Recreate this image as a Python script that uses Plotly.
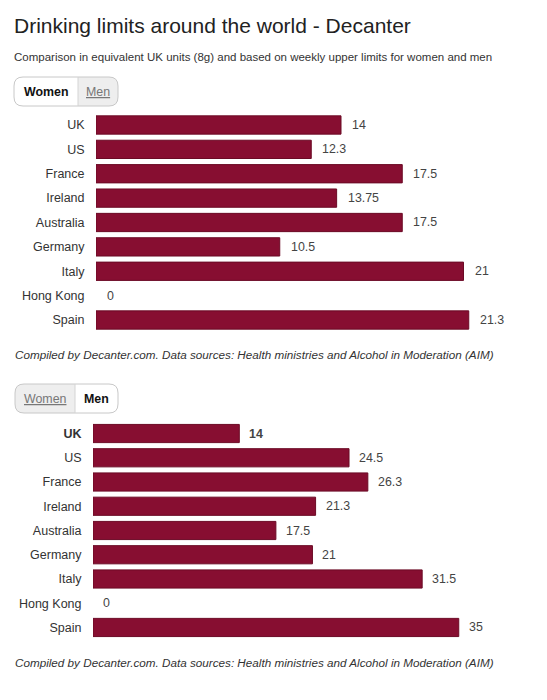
import plotly.graph_objects as go

countries = ["UK", "US", "France", "Ireland", "Australia", "Germany", "Italy", "Hong Kong", "Spain"]
women = [14, 12.3, 17.5, 13.75, 17.5, 10.5, 21, 0, 21.3]
men = [14, 24.5, 26.3, 21.3, 17.5, 21, 31.5, 0, 35]
women_labels = ["14", "12.3", "17.5", "13.75", "17.5", "10.5", "21", "0", "21.3"]
men_labels = ["<b>14</b>", "24.5", "26.3", "21.3", "17.5", "21", "31.5", "0", "35"]
men_ticktext = ["<b>UK</b>"] + countries[1:]

title = "Drinking limits around the world - Decanter"
subtitle = "Comparison in equivalent UK units (8g) and based on weekly upper limits for women and men"
credit = "Compiled by Decanter.com. Data sources: Health ministries and Alcohol in Moderation (AIM)"

OX, OY = 8, 8          # page body margin
W, H = 547 - 2 * OX, 700 - 2 * OY
FONT = "Liberation Sans, Arial, sans-serif"
BAR = "#870e31"
BAR_LINE = "#6b0a25"


def px(x):
    return (x - OX) / W


def py(y):
    return 1 - (y - OY) / H


def line_widths(vals):
    return [1 if v > 0 else 0 for v in vals]


fig = go.Figure()
fig.add_trace(go.Bar(x=women, y=countries, orientation="h", xaxis="x", yaxis="y",
                     marker=dict(color=BAR, line=dict(color=BAR_LINE, width=line_widths(women))),
                     hoverinfo="skip", showlegend=False))
fig.add_trace(go.Bar(x=men, y=countries, orientation="h", xaxis="x2", yaxis="y2",
                     marker=dict(color=BAR, line=dict(color=BAR_LINE, width=line_widths(men))),
                     hoverinfo="skip", showlegend=False))

annotations = []
LBL = dict(size=12.4, color="#444", family=FONT)
for c, v, t in zip(countries, women, women_labels):
    annotations.append(dict(x=v, y=c, xref="x", yref="y", text=t, showarrow=False,
                            xanchor="left", yanchor="middle", xshift=9, font=LBL))
for c, v, t in zip(countries, men, men_labels):
    annotations.append(dict(x=v, y=c, xref="x2", yref="y2", text=t, showarrow=False,
                            xanchor="left", yanchor="middle", xshift=8, font=LBL))

# titles and credits
annotations.append(dict(x=px(12), y=py(26), xref="paper", yref="paper", text=title, showarrow=False,
                        xanchor="left", yanchor="middle", font=dict(size=21, color="#222", family=FONT)))
annotations.append(dict(x=px(12), y=py(57), xref="paper", yref="paper", text=subtitle, showarrow=False,
                        xanchor="left", yanchor="middle", font=dict(size=11.5, color="#333", family=FONT)))
for yy in (354, 662):
    annotations.append(dict(x=px(13), y=py(yy), xref="paper", yref="paper", text="<i>" + credit + "</i>",
                            showarrow=False, xanchor="left", yanchor="middle",
                            font=dict(size=11.7, color="#333", family=FONT)))


def rpath(x0, y0, x1, y1, r, left=True, right=True):
    rl = r if left else 0
    rr = r if right else 0
    pts = []
    pts.append(f"M {px(x0 + rl)} {py(y0)}")
    pts.append(f"L {px(x1 - rr)} {py(y0)}")
    if rr:
        pts.append(f"Q {px(x1)} {py(y0)} {px(x1)} {py(y0 + rr)}")
    pts.append(f"L {px(x1)} {py(y1 - rr)}")
    if rr:
        pts.append(f"Q {px(x1)} {py(y1)} {px(x1 - rr)} {py(y1)}")
    pts.append(f"L {px(x0 + rl)} {py(y1)}")
    if rl:
        pts.append(f"Q {px(x0)} {py(y1)} {px(x0)} {py(y1 - rl)}")
    pts.append(f"L {px(x0)} {py(y0 + rl)}")
    if rl:
        pts.append(f"Q {px(x0)} {py(y0)} {px(x0 + rl)} {py(y0)}")
    pts.append("Z")
    return " ".join(pts)


shapes = []


def button_group(x0, y0, x1, y1, xd, selected_left):
    r = 9
    shapes.append(dict(type="path", xref="paper", yref="paper", path=rpath(x0, y0, x1, y1, r),
                       fillcolor="white", line=dict(width=0), layer="above"))
    if selected_left:
        shapes.append(dict(type="path", xref="paper", yref="paper",
                           path=rpath(xd, y0, x1, y1, r, left=False, right=True),
                           fillcolor="#eeeeee", line=dict(width=0), layer="above"))
    else:
        shapes.append(dict(type="path", xref="paper", yref="paper",
                           path=rpath(x0, y0, xd, y1, r, left=True, right=False),
                           fillcolor="#eeeeee", line=dict(width=0), layer="above"))
    shapes.append(dict(type="path", xref="paper", yref="paper", path=rpath(x0, y0, x1, y1, r),
                       fillcolor="rgba(0,0,0,0)", line=dict(width=1, color="#c8c8c8"), layer="above"))
    shapes.append(dict(type="line", xref="paper", yref="paper", x0=px(xd), x1=px(xd), y0=py(y0), y1=py(y1),
                       line=dict(width=1, color="#d4d4d4"), layer="above"))
    yc = py((y0 + y1) / 2)
    lc = (x0 + xd) / 2
    rc = (xd + x1) / 2
    sel = dict(size=12.4, color="#111", family=FONT)
    uns = dict(size=12.4, color="#777", family=FONT, lineposition="under")
    annotations.append(dict(x=px(lc), y=yc, xref="paper", yref="paper", showarrow=False,
                            xanchor="center", yanchor="middle",
                            text="<b>Women</b>" if selected_left else "Women",
                            font=sel if selected_left else uns))
    annotations.append(dict(x=px(rc), y=yc, xref="paper", yref="paper", showarrow=False,
                            xanchor="center", yanchor="middle",
                            text="Men" if selected_left else "<b>Men</b>",
                            font=uns if selected_left else sel))


button_group(14, 77, 118, 106, 78, True)
button_group(15, 384, 118, 413, 75, False)

axis_common = dict(showgrid=False, zeroline=False, showline=False, showticklabels=False, fixedrange=True)
yaxis_common = dict(showgrid=False, zeroline=False, showline=False, ticks="outside", ticklen=8,
                    tickcolor="rgba(0,0,0,0)", tickfont=dict(size=12.5, color="#333", family=FONT),
                    type="category", categoryorder="array", categoryarray=countries,
                    range=[8.5, -0.5], fixedrange=True)

fig.update_layout(
    width=W, height=H,
    margin=dict(l=0, r=0, t=0, b=0),
    paper_bgcolor="white", plot_bgcolor="white",
    bargap=0.25,
    xaxis=dict(domain=[px(96), px(530)], range=[0, 434 / 17.5], anchor="y", **axis_common),
    yaxis=dict(domain=[py(332.2), py(112.8)], anchor="x", **yaxis_common),
    xaxis2=dict(domain=[px(93), px(530)], range=[0, 437 / 10.45], anchor="y2", **axis_common),
    yaxis2=dict(domain=[py(639.6), py(421.4)], anchor="x2", tickmode="array", tickvals=countries,
                ticktext=men_ticktext, **yaxis_common),
    annotations=annotations,
    shapes=shapes,
    showlegend=False,
)

fig.write_html("out.html")
